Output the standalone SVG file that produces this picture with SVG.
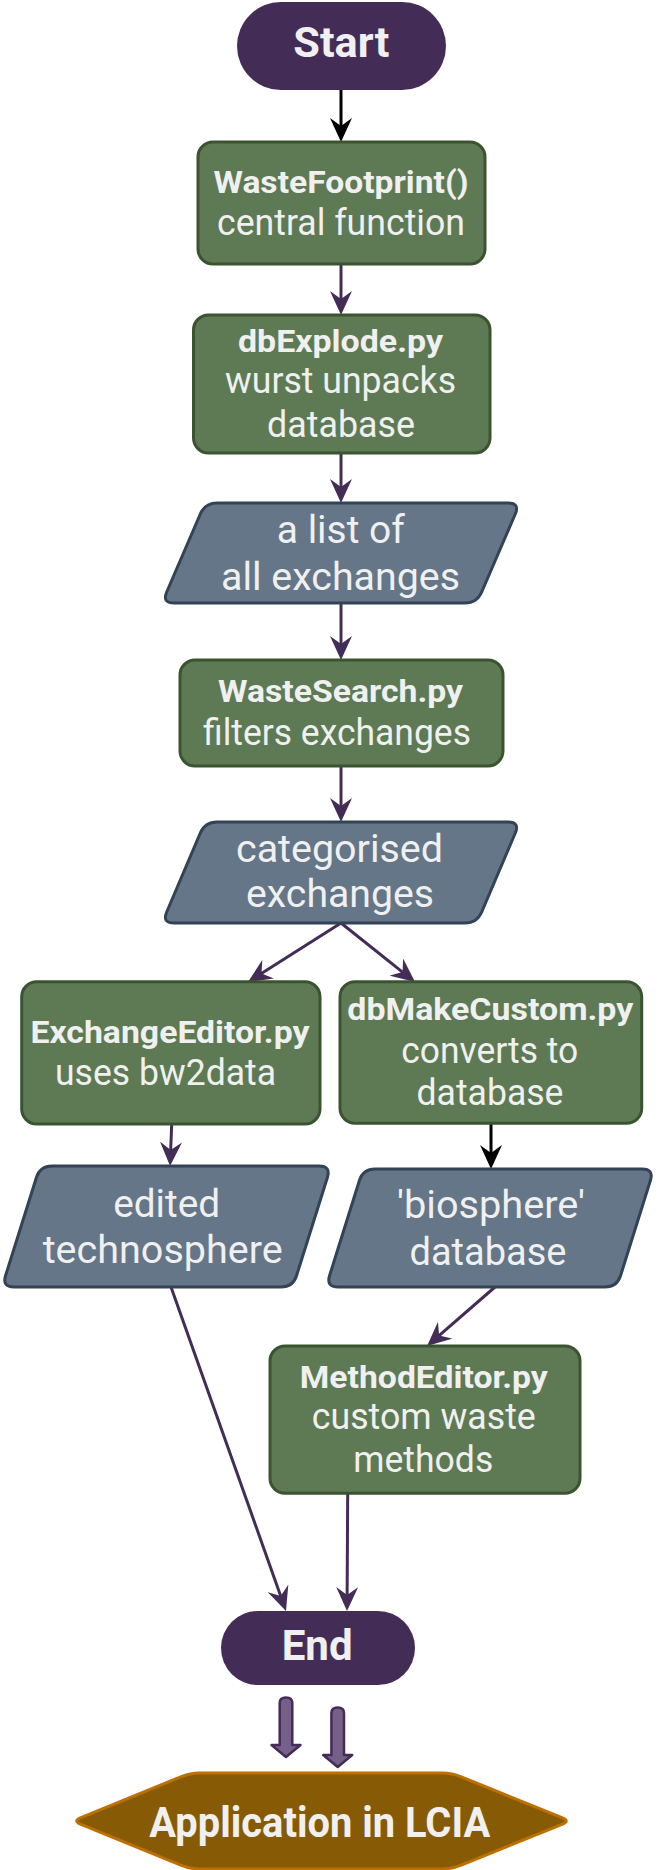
<svg xmlns="http://www.w3.org/2000/svg" width="658" height="1870" viewBox="0 0 658 1870">
<style>
text{font-family:Roboto,"Liberation Sans",sans-serif;fill:#f0f0f0;text-anchor:middle}
.b{font-weight:700;font-size:32px}
.r{font-size:36px}
.p{font-size:38px}
.t{font-weight:700;font-size:42px}
.term{fill:#432d57}
.proc{fill:#5e7a55;stroke:#3a5431;stroke-width:3}
.data{fill:#647687;stroke:#314354;stroke-width:3}
.hex{fill:#875b05;stroke:#bd7000;stroke-width:3}
.blk{fill:#76608a;stroke:#432d57;stroke-width:2.5;stroke-linejoin:round}
.c{fill:none;stroke:#432d57;stroke-width:3;marker-end:url(#ap)}
.k{fill:none;stroke:#000;stroke-width:3;marker-end:url(#ak)}
</style>
<defs>
<marker id="ap" markerUnits="userSpaceOnUse" viewBox="0 0 24 22" markerWidth="24" markerHeight="22" refX="10" refY="11" orient="auto"><path d="M0,0 L24,11 L0,22 L8,11 Z" fill="#432d57"/></marker>
<marker id="ak" markerUnits="userSpaceOnUse" viewBox="0 0 24 22" markerWidth="24" markerHeight="22" refX="10" refY="11" orient="auto"><path d="M0,0 L24,11 L0,22 L8,11 Z" fill="#000"/></marker>
</defs>
<g id="connectors">
<line class="k" x1="341" y1="90" x2="341" y2="128"/>
<line class="c" x1="341" y1="264" x2="341" y2="301"/>
<line class="c" x1="341" y1="453" x2="341" y2="489"/>
<line class="c" x1="341" y1="603" x2="341" y2="646"/>
<line class="c" x1="341" y1="766" x2="341" y2="808"/>
<line class="c" x1="341" y1="923" x2="259.8" y2="974.5"/>
<line class="c" x1="341" y1="923" x2="404.1" y2="973.3"/>
<line class="c" x1="171.7" y1="1124" x2="170.6" y2="1152"/>
<line class="k" x1="491" y1="1123" x2="491" y2="1155"/>
<line class="c" x1="495" y1="1287" x2="437.6" y2="1336.8"/>
<line class="c" x1="171" y1="1287" x2="281.3" y2="1597.8"/>
<line class="c" x1="347.7" y1="1493" x2="347.1" y2="1597"/>
</g>
<g id="start">
<rect class="term" x="237" y="2" width="209" height="88" rx="44"/>
<text class="t" x="341.3" y="57" textLength="96" lengthAdjust="spacingAndGlyphs">Start</text>
</g>
<g id="wastefootprint">
<rect class="proc" x="198" y="142" width="287" height="122" rx="15"/>
<text class="b" x="341" y="193" textLength="255" lengthAdjust="spacingAndGlyphs">WasteFootprint()</text>
<text class="r" x="341" y="235" textLength="248" lengthAdjust="spacingAndGlyphs">central function</text>
</g>
<g id="dbexplode">
<rect class="proc" x="193.5" y="315" width="296.5" height="138" rx="15"/>
<text class="b" x="340.5" y="351.7" textLength="205" lengthAdjust="spacingAndGlyphs">dbExplode.py</text>
<text class="r" x="340.5" y="393" textLength="231" lengthAdjust="spacingAndGlyphs">wurst unpacks</text>
<text class="r" x="341" y="436.7" textLength="148" lengthAdjust="spacingAndGlyphs">database</text>
</g>
<g id="allexchanges">
<path class="data" d="M217,503 L508,503 Q520,503 515.3,514 L481.7,592 Q477,603 465,603 L174,603 Q162,603 166.7,592 L200.3,514 Q205,503 217,503 Z"/>
<text class="p" x="340.8" y="543.3" textLength="128" lengthAdjust="spacingAndGlyphs">a list of</text>
<text class="p" x="340.5" y="590" textLength="239" lengthAdjust="spacingAndGlyphs">all exchanges</text>
</g>
<g id="wastesearch">
<rect class="proc" x="180" y="660" width="323" height="106" rx="15"/>
<text class="b" x="340.5" y="701.7" textLength="245" lengthAdjust="spacingAndGlyphs">WasteSearch.py</text>
<text class="r" x="337" y="745" textLength="268" lengthAdjust="spacingAndGlyphs">filters exchanges</text>
</g>
<g id="categorised">
<path class="data" d="M217,822 L508,822 Q520,822 515.3,833 L481.7,912 Q477,923 465,923 L174,923 Q162,923 166.7,912 L200.3,833 Q205,822 217,822 Z"/>
<text class="p" x="339.5" y="861.7" textLength="207" lengthAdjust="spacingAndGlyphs">categorised</text>
<text class="p" x="340" y="906.7" textLength="188" lengthAdjust="spacingAndGlyphs">exchanges</text>
</g>
<g id="exchangeeditor">
<rect class="proc" x="21.7" y="981.7" width="298.3" height="142.3" rx="15"/>
<text class="b" x="170" y="1043.3" textLength="279" lengthAdjust="spacingAndGlyphs">ExchangeEditor.py</text>
<text class="r" x="165.5" y="1085" textLength="221" lengthAdjust="spacingAndGlyphs">uses bw2data</text>
</g>
<g id="dbmakecustom">
<rect class="proc" x="340" y="981.7" width="301.7" height="141.6" rx="15"/>
<text class="b" x="490.3" y="1020" textLength="286" lengthAdjust="spacingAndGlyphs">dbMakeCustom.py</text>
<text class="r" x="489.7" y="1063.3" textLength="177" lengthAdjust="spacingAndGlyphs">converts to</text>
<text class="r" x="490" y="1105" textLength="147" lengthAdjust="spacingAndGlyphs">database</text>
</g>
<g id="technosphere">
<path class="data" d="M52,1166 L319,1166 Q331,1166 327.4,1177.5 L296.6,1275.5 Q293,1287 281,1287 L14,1287 Q2,1287 5.6,1275.5 L36.4,1177.5 Q40,1166 52,1166 Z"/>
<text class="p" x="166.7" y="1216.7" textLength="107" lengthAdjust="spacingAndGlyphs">edited</text>
<text class="p" x="162.7" y="1263" textLength="240" lengthAdjust="spacingAndGlyphs">technosphere</text>
</g>
<g id="biosphere">
<path class="data" d="M375,1169 L642,1169 Q654,1169 650.4,1180.5 L620.6,1275.5 Q617,1287 605,1287 L338,1287 Q326,1287 329.6,1275.5 L359.4,1180.5 Q363,1169 375,1169 Z"/>
<text class="p" x="491" y="1218.3" textLength="188" lengthAdjust="spacingAndGlyphs">'biosphere'</text>
<text class="p" x="488" y="1265" textLength="157" lengthAdjust="spacingAndGlyphs">database</text>
</g>
<g id="methodeditor">
<rect class="proc" x="270" y="1346" width="310" height="147.3" rx="15"/>
<text class="b" x="423.8" y="1388.3" textLength="248" lengthAdjust="spacingAndGlyphs">MethodEditor.py</text>
<text class="r" x="423.8" y="1429.3" textLength="224" lengthAdjust="spacingAndGlyphs">custom waste</text>
<text class="r" x="423.3" y="1471.7" textLength="140" lengthAdjust="spacingAndGlyphs">methods</text>
</g>
<g id="end">
<rect class="term" x="221" y="1611" width="194" height="74" rx="37"/>
<text class="t" x="317.2" y="1660" textLength="71" lengthAdjust="spacingAndGlyphs">End</text>
</g>
<g id="blockarrows">
<path class="blk" d="M279.7,1745 L279.7,1703 Q279.7,1697.5 286,1697.5 Q292.3,1697.5 292.3,1703 L292.3,1745 L300.5,1745 L286,1757 L271.5,1745 Z"/>
<path class="blk" d="M331.4,1755 L331.4,1713 Q331.4,1707.5 337.7,1707.5 Q344,1707.5 344,1713 L344,1755 L352.2,1755 L337.7,1767 L323.2,1755 Z"/>
</g>
<g id="lcia">
<path class="hex" d="M80.4,1817.97 L180.75,1776.79 Q190,1773 200,1773 L442,1773 Q452,1773 461.25,1776.79 L562.6,1817.97 Q570,1821 562.6,1824.03 L461.25,1865.21 Q452,1869 442,1869 L200,1869 Q190,1869 180.75,1865.21 L80.4,1824.03 Q73,1821 80.4,1817.97 Z"/>
<text class="t" x="319.7" y="1836.7" textLength="341" lengthAdjust="spacingAndGlyphs">Application in LCIA</text>
</g>
</svg>
